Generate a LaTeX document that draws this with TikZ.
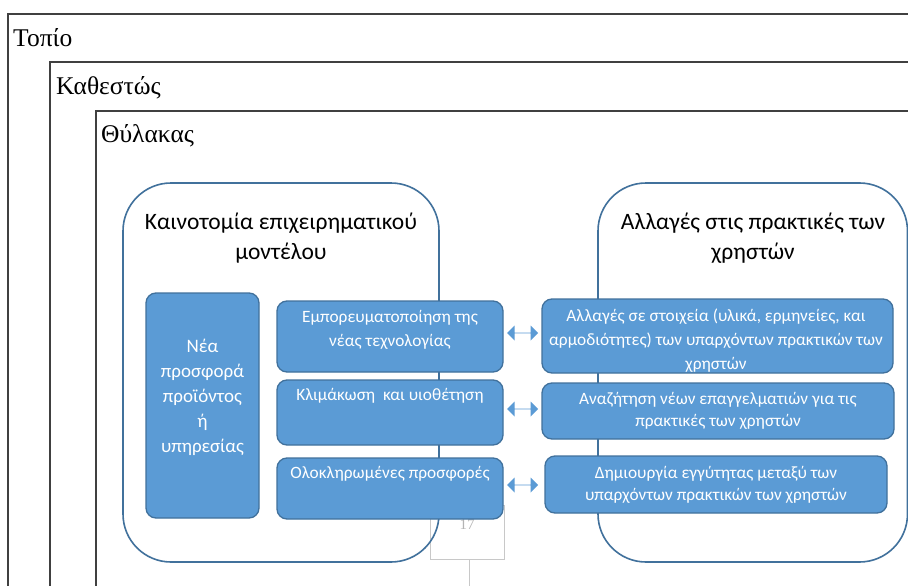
\documentclass[tikz,border=0pt]{standalone}
\usepackage{fontspec}
\setmainfont{Liberation Serif}
\newfontfamily\bodyfont{Carlito}
\usetikzlibrary{shapes.arrows}
\definecolor{boxfill}{HTML}{5B9BD5}
\definecolor{boxline}{HTML}{41719C}
\definecolor{framegray}{HTML}{404040}
\definecolor{pagegray}{HTML}{C8C8C8}
\begin{document}
\begin{tikzpicture}[x=1pt,y=-1pt,
  frame/.style={draw=framegray, line width=1.8pt},
  framelabel/.style={anchor=base west, inner sep=0, font=\fontsize{25.5}{30}\selectfont},
  group/.style={draw=boxline, line width=1.6pt, rounded corners=48pt},
  grouptitle/.style={align=center, inner sep=0, text=black, font=\bodyfont\fontsize{23.5}{30}\selectfont},
  item/.style={draw=boxline, line width=1.3pt, fill=boxfill, rounded corners=10pt, inner sep=0},
  itemtext/.style={align=center, inner sep=0, text=white, font=\bodyfont\fontsize{17.3}{24}\selectfont},
  itemtextb/.style={itemtext, font=\bodyfont\fontsize{17.3}{22}\selectfont},
  bigtext/.style={align=center, inner sep=0, text=white, font=\bodyfont\fontsize{19}{25}\selectfont},
  link/.style={double arrow, fill=boxfill, draw=none, minimum width=15pt, minimum height=31pt,
    double arrow head extend=5pt, inner sep=0}
]
\useasboundingbox (0,0) rectangle (908,586);
\clip (0,0) rectangle (908,586);
\fill[white] (0,0) rectangle (908,586);

% nested frames
\draw[frame] (8,14) rectangle (1000,700);
\draw[frame] (50,62) rectangle (1000,700);
\draw[frame] (96,111) rectangle (1000,700);
\node[framelabel] (topio) at (13,47) {Τοπίο};
\node[framelabel] (kathestos) at (56,95) {Καθεστώς};
\node[framelabel] (thylakas) at (101,142) {Θύλακας};

% page number box
\draw[pagegray, line width=0.8pt] (430,505) rectangle (504,559);
\node[inner sep=0, text=pagegray!90!black, font=\fontsize{15}{18}\selectfont] (pagenum) at (467,525) {17};
\coordinate (pagebottom) at (469,586);
\draw[pagegray, line width=0.8pt] (469,559) -- (pagebottom);

% the two groups
\draw[group] (123,183) rectangle (439,562);
\draw[group] (598,183) rectangle (907.5,562);
\node[grouptitle] (lefttitle) at (281,238) {Καινοτομία επιχειρηματικού\\μοντέλου};
\node[grouptitle] (righttitle) at (753,238) {Αλλαγές στις πρακτικές των\\χρηστών};

% left group items
\node[item, minimum width=113pt, minimum height=225pt] (offer) at (202.5,405.5) {};
\node[bigtext] (offert) at (202.5,397) {Νέα\\προσφορά\\προϊόντος\\ή\\υπηρεσίας};

\node[item, minimum width=226pt, minimum height=71pt] (l1) at (390,336.5) {};
\node[itemtext] (l1t) at (390,330) {Εμπορευματοποίηση της\\νέας τεχνολογίας};
\node[item, minimum width=226pt, minimum height=65pt] (l2) at (390,412.5) {};
\node[itemtext] (l2t) at (390,396) {Κλιμάκωση \ και υιοθέτηση};
\node[item, minimum width=226pt, minimum height=61pt] (l3) at (390,488.5) {};
\node[itemtext] (l3t) at (390,474) {Ολοκληρωμένες προσφορές};

% right group items
\node[item, minimum width=351pt, minimum height=74pt] (r1) at (717.5,336) {};
\node[itemtext] (r1t) at (716,341) {Αλλαγές σε στοιχεία (υλικά, ερμηνείες, και\\αρμοδιότητες) των υπαρχόντων πρακτικών των\\χρηστών};
\node[item, minimum width=352pt, minimum height=56pt] (r2) at (718,411) {};
\node[itemtextb] (r2t) at (718,411) {Αναζήτηση νέων επαγγελματιών για τις\\πρακτικές των χρηστών};
\node[item, minimum width=342pt, minimum height=57pt] (r3) at (716,484.5) {};
\node[itemtextb] (r3t) at (716,485) {Δημιουργία εγγύτητας μεταξύ των\\υπαρχόντων πρακτικών των χρηστών};

% links between the two groups
\node[link] (a1) at (522.5,333) {};
\node[link] (a2) at (522.5,409) {};
\node[link] (a3) at (522.5,485) {};
\end{tikzpicture}
\end{document}
